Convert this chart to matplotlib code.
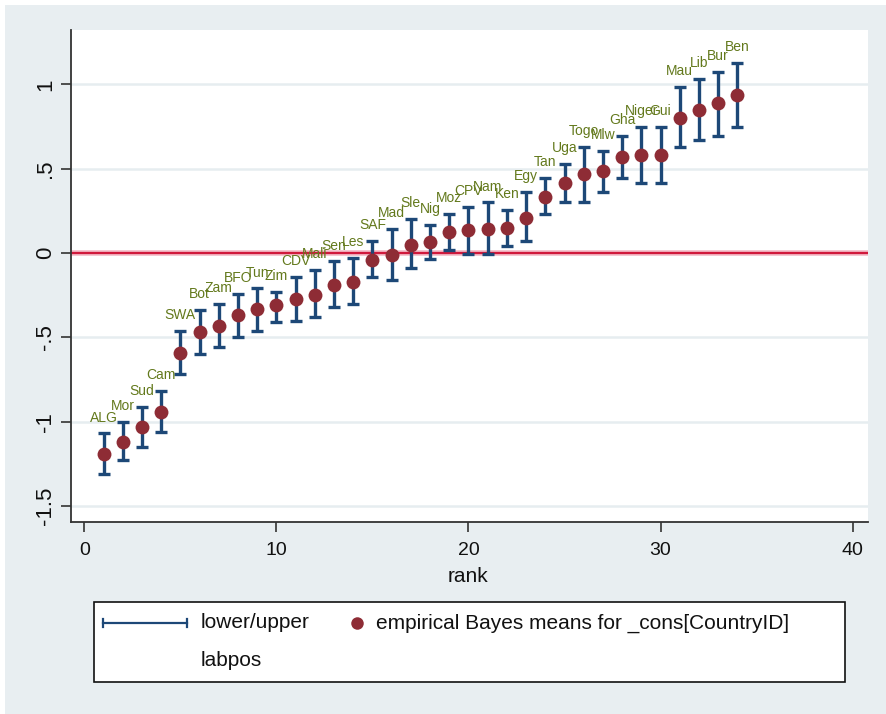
import matplotlib
matplotlib.use('Agg')
import matplotlib.pyplot as plt
import numpy as np
from matplotlib.patches import Rectangle
from matplotlib.lines import Line2D

plt.rcParams['font.family'] = ['Liberation Sans', 'DejaVu Sans']

# ---------------- data ----------------
countries = ['ALG', 'Mor', 'Sud', 'Cam', 'SWA', 'Bot', 'Zam', 'BFO', 'Tun', 'Zim',
             'CDV', 'Mali', 'Sen', 'Les', 'SAF', 'Mad', 'Sle', 'Nig', 'Moz', 'CPV',
             'Nam', 'Ken', 'Egy', 'Tan', 'Uga', 'Togo', 'Mlw', 'Gha', 'Niger', 'Gui',
             'Mau', 'Lib', 'Bur', 'Ben']
rank = list(range(1, 35))
eb_mean = [-1.19, -1.12, -1.03, -0.94, -0.59, -0.47, -0.43, -0.37, -0.33, -0.31,
           -0.27, -0.25, -0.19, -0.17, -0.04, -0.01, 0.05, 0.065, 0.125, 0.135,
           0.145, 0.15, 0.21, 0.335, 0.415, 0.47, 0.485, 0.57, 0.58, 0.58,
           0.80, 0.85, 0.89, 0.94]
lower = [-1.31, -1.23, -1.15, -1.06, -0.72, -0.60, -0.56, -0.50, -0.46, -0.41,
         -0.40, -0.38, -0.32, -0.30, -0.14, -0.16, -0.09, -0.035, 0.02, -0.005,
         -0.005, 0.04, 0.07, 0.23, 0.30, 0.30, 0.365, 0.445, 0.415, 0.415,
         0.63, 0.67, 0.695, 0.75]
upper = [-1.07, -1.00, -0.91, -0.82, -0.46, -0.34, -0.30, -0.24, -0.21, -0.23,
         -0.14, -0.10, -0.05, -0.03, 0.07, 0.14, 0.20, 0.165, 0.23, 0.275,
         0.30, 0.255, 0.36, 0.445, 0.53, 0.63, 0.605, 0.695, 0.745, 0.75,
         0.985, 1.03, 1.075, 1.13]
yticks = [-1.5, -1, -0.5, 0, 0.5, 1]
ytick_labels = ['-1.5', '-1', '-.5', '0', '.5', '1']
xticks = [0, 10, 20, 30, 40]
xtick_labels = ['0', '10', '20', '30', '40']

# ---------------- style ----------------
NAVY = '#1d4877'
RED = '#8e2c35'
OLIVE = '#63791c'
ZERO = '#d0193c'
BG = '#e8eef1'
GRID = '#e6edf0'

W, H = 886, 714
fig = plt.figure(figsize=(W / 100, H / 100), dpi=100, facecolor='white')


def fx(x):
    return x / W


def fy(y):
    return 1 - y / H


fig.patches.append(Rectangle((fx(5), 0), 1, fy(5), transform=fig.transFigure,
                             facecolor=BG, edgecolor='none', zorder=-10))

ax = fig.add_axes([fx(70.7), fy(522), (868 - 70.7) / W, (522 - 30) / H])
ax.set_facecolor('white')
ax.set_xlim(-0.71, 40.8)
ax.set_ylim(-1.595, 1.323)

m = np.array(eb_mean)
lo = np.array(lower)
up = np.array(upper)

ax.axhline(0, color='#f2b8c4', lw=4, zorder=1.5)
ax.axhline(0, color=ZERO, lw=1.6, zorder=2)
ax.errorbar(rank, m, yerr=[m - lo, up - m], fmt='none', ecolor=NAVY,
            elinewidth=2.4, capsize=4.5, capthick=2.4, zorder=3)
ax.plot(rank, m, 'o', color=RED, markersize=10, markeredgewidth=0, zorder=4)

for r, u, c in zip(rank, up, countries):
    ax.annotate(c, (r, u), xytext=(0, 11.5), textcoords='offset points',
                ha='center', va='center', fontsize=10, color=OLIVE, zorder=5)

ax.set_yticks(yticks)
ax.set_yticklabels(ytick_labels, fontsize=16)
ax.set_xticks(xticks)
ax.set_xticklabels(xtick_labels, fontsize=14)
ax.yaxis.grid(True, color=GRID, lw=1.8)
ax.xaxis.grid(False)
ax.set_axisbelow(True)
for s in ['top', 'right']:
    ax.spines[s].set_visible(False)
for s in ['left', 'bottom']:
    ax.spines[s].set_color('#333333')
    ax.spines[s].set_linewidth(1.3)
ax.tick_params(axis='both', direction='out', length=7.5, width=1.2,
               color='#333333', labelcolor='#111111')
ax.tick_params(axis='x', pad=7)
ax.tick_params(axis='y', pad=3)
for t in ax.get_yticklabels():
    t.set_rotation(90)
    t.set_va('center')

ax.set_xlabel('rank', fontsize=15, color='#111111')
ax.xaxis.set_label_coords((468 - 70.7) / (868 - 70.7), -(577 - 522) / (522 - 30))
ax.xaxis.label.set_va('center')

# ---------------- legend (Stata style) ----------------
fig.patches.append(Rectangle((fx(94), fy(682)), (845 - 94) / W, (682 - 602) / H,
                             transform=fig.transFigure, facecolor='white',
                             edgecolor='#111111', lw=1.2, zorder=5))
fig.lines.append(Line2D([fx(103), fx(187)], [fy(623), fy(623)], transform=fig.transFigure,
                        color=NAVY, lw=1.6, zorder=6))
for xx in (103, 187):
    fig.lines.append(Line2D([fx(xx), fx(xx)], [fy(619), fy(627)], transform=fig.transFigure,
                            color=NAVY, lw=1.6, zorder=6))
fig.lines.append(Line2D([fx(357)], [fy(623)], transform=fig.transFigure, marker='o',
                        color=RED, markersize=9, markeredgewidth=0, zorder=6))
fig.text(fx(201), fy(623), 'lower/upper', fontsize=15, va='center', ha='left',
         color='#111111', zorder=7)
fig.text(fx(376), fy(623), 'empirical Bayes means for _cons[CountryID]', fontsize=15,
         va='center', ha='left', color='#111111', zorder=7)
fig.text(fx(201), fy(661), 'labpos', fontsize=15, va='center', ha='left',
         color='#111111', zorder=7)

fig.savefig('out.png', dpi=100, facecolor=fig.get_facecolor())
